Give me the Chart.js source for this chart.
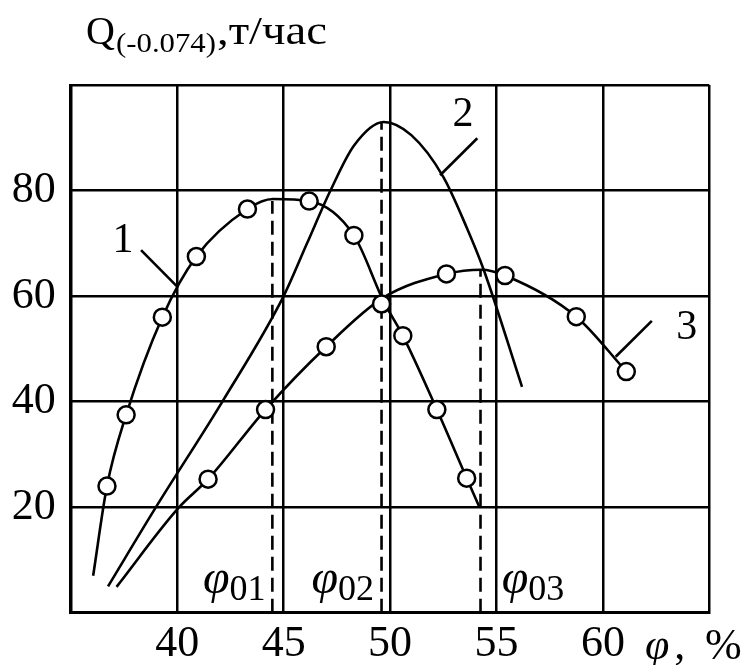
<!DOCTYPE html>
<html lang="ru">
<head>
<meta charset="UTF-8">
<title>Q(-0.074), т/час — φ, %</title>
<script src="https://cdn.jsdelivr.net/npm/chart.js@4.4.0/dist/chart.umd.min.js"></script>
<style>
  html, body { margin: 0; padding: 0; background: #fff; }
  #wrap { width: 747px; height: 665px; }
</style>
</head>
<body>
<div id="wrap"><canvas id="chart"></canvas></div>
<script>
// оси: φ, % (35..65) и Q(-0.074), т/час (0..100)
const xTicks = [40, 45, 50, 55, 60];
const yTicks = [20, 40, 60, 80];

// кривая 1: опытные точки и сглаженная линия
const c1PointX = [36.7, 37.6, 39.3, 40.9, 43.3, 46.2, 48.3, 49.6, 50.6, 52.2, 53.6];
const c1PointY = [24, 37.5, 56, 67.5, 76.5, 78, 71.5, 58.5, 52.5, 38.5, 25.5];
const c1LineX = [36.05, 36.7, 37.6, 39.3, 40.9, 43.3, 44.5, 46.2, 48.3, 49.7, 50.6, 52.2, 53.6, 54.2];
const c1LineY = [7, 24, 37.5, 56, 67.5, 76.5, 78.4, 78, 71.5, 59, 52.5, 38.5, 25.5, 20];

// кривая 2: только линия
const c2LineX = [36.75, 39.0, 42.15, 45.0, 46.1, 47.2, 48.3, 49.7, 51.0, 52.5, 53.6, 54.4, 56.2];
const c2LineY = [5, 20, 40.2, 60, 70, 80, 88.5, 93, 90.5, 82.6, 73, 65, 42.8];

// кривая 3: опытные точки и линия
const c3PointX = [41.45, 44.15, 47.0, 52.65, 55.4, 58.75, 61.1];
const c3PointY = [25.3, 38.5, 50.4, 64.2, 63.9, 56.1, 45.7];
const c3LineX = [37.15, 40.05, 41.45, 44.15, 47.0, 49.65, 52.65, 54.3, 55.4, 58.75, 61.1];
const c3LineY = [4.9, 19.8, 25.3, 38.5, 50.4, 59.6, 64.2, 65, 63.9, 56.1, 45.7];

// оптимумы φ01, φ02, φ03 и высота штриховых линий
const phiOptX = [44.47, 49.6, 54.25];
const phiOptTop = [78, 93, 65];
const phiNames = ['01', '02', '03'];

// выноски к номерам кривых
const curveNames = ['1', '2', '3'];
const leaderX = [[38.3, 40.0], [54.1, 52.35], [62.3, 60.6]];
const leaderY = [[68.7, 61.8], [89.9, 82.9], [55.3, 48.5]];

const SERIF = '"Liberation Serif", "Times New Roman", serif';

function pairs(xs, ys) {
  return xs.map((v, i) => ({ x: v, y: ys[i] }));
}

const markerStyle = {
  showLine: false,
  pointRadius: 8.5,
  pointHoverRadius: 8.5,
  pointBorderWidth: 2.5,
  pointBorderColor: '#000',
  pointBackgroundColor: '#fff',
  order: 0
};

const lineStyle = {
  showLine: true,
  pointRadius: 0,
  borderColor: '#000',
  borderWidth: 2.6,
  cubicInterpolationMode: 'monotone',
  fill: false,
  order: 1
};

const datasets = [
  Object.assign({ data: pairs(c1PointX, c1PointY) }, markerStyle),
  Object.assign({ data: pairs(c3PointX, c3PointY) }, markerStyle),
  Object.assign({ data: pairs(c1LineX, c1LineY) }, lineStyle),
  Object.assign({ data: pairs(c2LineX, c2LineY) }, lineStyle),
  Object.assign({ data: pairs(c3LineX, c3LineY) }, lineStyle)
];

phiOptX.forEach((v, i) => {
  datasets.push(Object.assign({}, lineStyle, {
    data: [{ x: v, y: 0 }, { x: v, y: phiOptTop[i] }],
    borderDash: [14, 7],
    cubicInterpolationMode: 'default',
    tension: 0
  }));
});

leaderX.forEach((xs, i) => {
  datasets.push(Object.assign({}, lineStyle, {
    data: pairs(xs, leaderY[i]),
    cubicInterpolationMode: 'default',
    tension: 0
  }));
});

// текст, растянутый по ширине до заданной
function fitText(ctx, text, x, y, width) {
  const w = ctx.measureText(text).width;
  ctx.save();
  ctx.translate(x, y);
  ctx.scale(width / w, 1);
  ctx.fillText(text, 0, 0);
  ctx.restore();
}

// подписи: заголовок оси, номера кривых, φ0i и единица оси абсцисс
const labelsPlugin = {
  id: 'labels',
  afterDraw(chart) {
    const { ctx, scales: { x, y } } = chart;
    ctx.save();
    ctx.fillStyle = '#000';
    ctx.textAlign = 'left';
    ctx.textBaseline = 'alphabetic';

    ctx.font = '40px ' + SERIF;
    ctx.fillText('Q', 86, 44);
    ctx.font = '28px ' + SERIF;
    fitText(ctx, '(-0.074)', 116, 52, 100);
    ctx.font = '40px ' + SERIF;
    fitText(ctx, ',т/час', 217, 44, 110);

    // номера кривых над выносками
    const nameAt = [[37.45, 70.4], [53.43, 94.3], [63.94, 54]];
    ctx.textAlign = 'center';
    ctx.textBaseline = 'middle';
    ctx.font = '42px ' + SERIF;
    curveNames.forEach((t, i) => {
      ctx.fillText(t, x.getPixelForValue(nameAt[i][0]), y.getPixelForValue(nameAt[i][1]));
    });

    // φ01, φ02, φ03 у нижней границы
    const phiLeft = [41.21, 46.31, 55.25];
    ctx.textAlign = 'left';
    ctx.textBaseline = 'alphabetic';
    phiNames.forEach((t, i) => {
      let lx = x.getPixelForValue(phiLeft[i]);
      const ly = y.getPixelForValue(2.4);
      ctx.font = 'italic 48px ' + SERIF;
      ctx.fillText('φ', lx, ly - 7);
      lx += ctx.measureText('φ').width;
      ctx.font = '36px ' + SERIF;
      ctx.fillText(t, lx, ly);
    });

    // единица оси абсцисс на месте последнего деления
    const uy = chart.chartArea.bottom + 46;
    ctx.font = 'italic 44px ' + SERIF;
    ctx.fillText('φ', x.getPixelForValue(61.98), uy);
    ctx.font = '44px ' + SERIF;
    ctx.fillText(',', x.getPixelForValue(63.35), uy);
    ctx.fillText('%', x.getPixelForValue(64.8), uy);
    ctx.restore();
  }
};

new Chart(document.getElementById('chart'), {
  type: 'scatter',
  data: { datasets },
  plugins: [labelsPlugin],
  options: {
    responsive: true,
    maintainAspectRatio: false,
    animation: false,
    layout: { padding: { top: 85, right: 37.7, left: 0, bottom: 0 } },
    plugins: { legend: { display: false }, tooltip: { enabled: false } },
    scales: {
      x: {
        type: 'linear',
        min: 35,
        max: 65,
        afterFit(scale) { scale.height = 52.3; },
        afterBuildTicks(scale) {
          scale.ticks = [35].concat(xTicks, [65]).map(v => ({ value: v }));
        },
        border: { display: true, color: '#000', width: 3 },
        grid: { color: '#000', lineWidth: 2.5, drawTicks: false },
        ticks: {
          padding: 5,
          color: '#000',
          font: { family: SERIF, size: 44 },
          callback: v => (xTicks.includes(v) ? String(v) : '')
        }
      },
      y: {
        type: 'linear',
        min: 0,
        max: 100,
        afterFit(scale) { scale.width = 70.8; },
        afterBuildTicks(scale) {
          scale.ticks = [0].concat(yTicks, [100]).map(v => ({ value: v }));
        },
        border: { display: true, color: '#000', width: 3 },
        grid: { color: '#000', lineWidth: 2.5, drawTicks: false },
        ticks: {
          padding: 15,
          color: '#000',
          font: { family: SERIF, size: 44 },
          callback: v => (yTicks.includes(v) ? String(v) : '')
        }
      }
    }
  }
});
</script>
</body>
</html>
